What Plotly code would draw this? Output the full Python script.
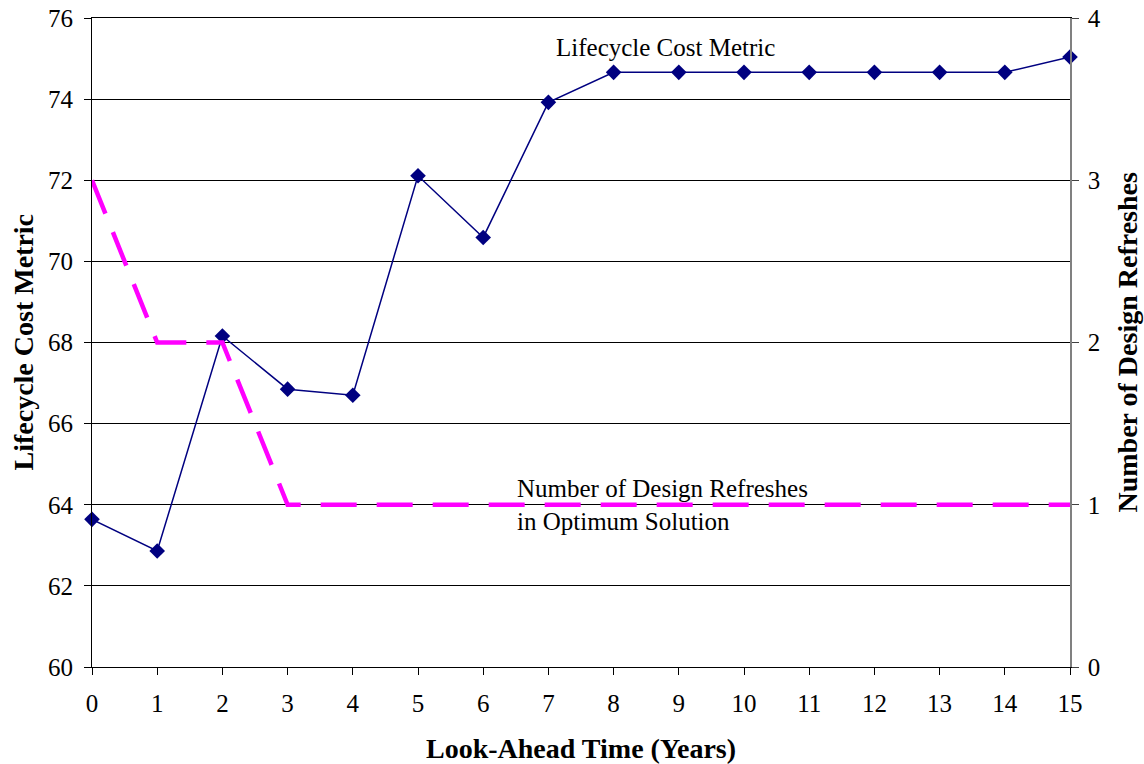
import plotly.graph_objects as go

years = list(range(16))
lifecycle_cost = [63.64, 62.86, 68.16, 66.85, 66.70, 72.11, 70.59, 73.92,
                  74.66, 74.66, 74.66, 74.66, 74.66, 74.66, 74.66, 75.04]
design_refreshes = [3, 2, 2, 1, 1, 1, 1, 1, 1, 1, 1, 1, 1, 1, 1, 1]

FONT = "Liberation Serif"
TICK = 25
TITLE = 28

fig = go.Figure()
fig.add_trace(go.Scatter(
    x=years, y=design_refreshes, yaxis="y2", mode="lines",
    line=dict(color="#FF00FF", width=4.5, dash="36px,20px"),
    showlegend=False, cliponaxis=False))
fig.add_trace(go.Scatter(
    x=years, y=lifecycle_cost, mode="lines+markers",
    line=dict(color="#000080", width=1.5),
    marker=dict(symbol="diamond", size=12, color="#000080"),
    showlegend=False, cliponaxis=False))

fig.update_layout(
    width=1144, height=764,
    margin=dict(l=92, r=74, t=18, b=97, autoexpand=False),
    paper_bgcolor="white", plot_bgcolor="white",
    font=dict(family=FONT, color="black", size=TICK),
    xaxis=dict(range=[0, 15], tickvals=years, ticks="outside", ticklen=7,
               tickcolor="black", showline=True, linecolor="black", linewidth=1,
               mirror=True,
               showgrid=False, zeroline=False, automargin=False,
               ticklabelstandoff=7, ticklabeloverflow="allow",
               tickfont=dict(size=TICK, family=FONT)),
    yaxis=dict(range=[60, 76], dtick=2, ticks="outside", ticklen=7,
               tickcolor="black", showline=True, linecolor="black", linewidth=1,
               showgrid=True, gridcolor="black", gridwidth=1, zeroline=False,
               automargin=False, ticklabelstandoff=6, ticklabeloverflow="allow",
               tickfont=dict(size=TICK, family=FONT)),
    yaxis2=dict(range=[0, 4], dtick=1, overlaying="y", side="right",
                ticks="outside", ticklen=7, tickcolor="#404040",
                showline=True, linecolor="#808080", linewidth=1.5,
                showgrid=False, zeroline=False, automargin=False,
                ticklabelstandoff=4, ticklabeloverflow="allow",
                tickfont=dict(size=TICK, family=FONT)),
)

# axis titles
fig.add_annotation(x=0.5, y=0, xref="paper", yref="paper", yshift=-81,
                   text="<b>Look-Ahead Time (Years)</b>", showarrow=False,
                   font=dict(size=TITLE, family=FONT),
                   xanchor="center", yanchor="middle")
fig.add_annotation(x=0, y=0.5, xref="paper", yref="paper", xshift=-69,
                   text="<b>Lifecycle Cost Metric</b>", showarrow=False,
                   textangle=-90, font=dict(size=TITLE, family=FONT),
                   xanchor="center", yanchor="middle")
fig.add_annotation(x=1, y=0.5, xref="paper", yref="paper", xshift=57,
                   text="<b>Number of Design Refreshes</b>", showarrow=False,
                   textangle=-90, font=dict(size=TITLE, family=FONT),
                   xanchor="center", yanchor="middle")

# series labels
fig.add_annotation(x=8.79, y=75.28, xref="x", yref="y",
                   text="Lifecycle Cost Metric", showarrow=False,
                   font=dict(size=TICK, family=FONT), xanchor="center", yanchor="middle")
fig.add_annotation(x=6.49, y=64, xref="x", yref="y",
                   text="Number of Design Refreshes<br>in Optimum Solution",
                   showarrow=False, align="left",
                   font=dict(size=TICK, family=FONT), xanchor="left", yanchor="middle")

fig.write_html("out.html", config={"displayModeBar": False},
               post_script="document.body.style.margin='0';")
